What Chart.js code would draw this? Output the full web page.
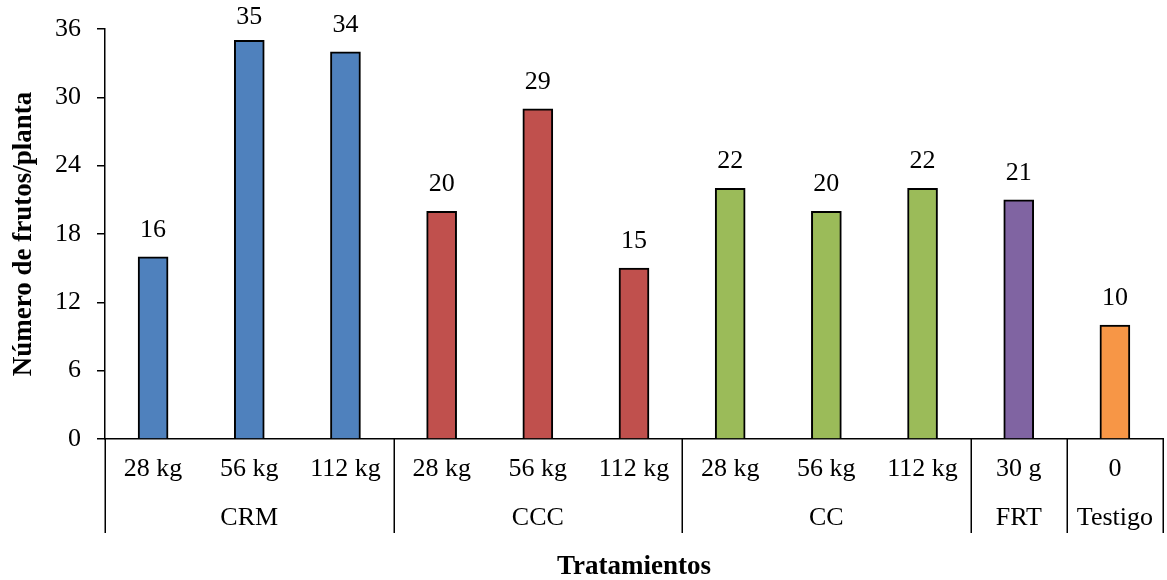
<!DOCTYPE html>
<html>
<head>
<meta charset="utf-8">
<script src="https://cdn.jsdelivr.net/npm/chart.js@4.4.1/dist/chart.umd.min.js"></script>
<style>
  html, body { margin: 0; padding: 0; background: #ffffff; }
  #wrap { width: 1167px; height: 580px; position: relative; }
</style>
</head>
<body>
<div id="wrap"><canvas id="chart"></canvas></div>
<script>
// Treatment doses (inner x labels)
const doses = ['28 kg', '56 kg', '112 kg', '28 kg', '56 kg', '112 kg', '28 kg', '56 kg', '112 kg', '30 g', '0'];
// Number of fruits per plant for each treatment
const frutos = [16, 35, 34, 20, 29, 15, 22, 20, 22, 21, 10];
// Outer treatment groups and how many doses each spans
const groupNames = ['CRM', 'CCC', 'CC', 'FRT', 'Testigo'];
const groupSizes = [3, 3, 3, 1, 1];
const groupColors = ['#4F81BD', '#C0504D', '#9BBB59', '#8064A2', '#F79646'];
const yTicks = [0, 6, 12, 18, 24, 30, 36];

const barColors = [];
groupSizes.forEach((n, g) => { for (let i = 0; i < n; i++) barColors.push(groupColors[g]); });

const SERIF = '"Liberation Serif", "Times New Roman", serif';
const LABEL_SIZE = 26;

// Value labels above bars, plus group labels and separators under the x axis
const extras = {
  id: 'extras',
  afterDatasetsDraw(chart) {
    const ctx = chart.ctx;
    const meta = chart.getDatasetMeta(0);
    ctx.save();
    ctx.fillStyle = '#000';
    ctx.font = LABEL_SIZE + 'px ' + SERIF;
    ctx.textAlign = 'center';
    ctx.textBaseline = 'middle';
    meta.data.forEach((bar, i) => {
      ctx.fillText(String(frutos[i]), bar.x, Math.max(bar.y - 27, 17));
    });
    ctx.restore();
  },
  afterDraw(chart) {
    const ctx = chart.ctx;
    const xs = chart.scales.x;
    const half = (xs.getPixelForValue(1) - xs.getPixelForValue(0)) / 2;
    const top = chart.chartArea.bottom;
    const lineBottom = top + 94;
    ctx.save();
    ctx.strokeStyle = '#000';
    ctx.lineWidth = 1.5;
    ctx.fillStyle = '#000';
    ctx.font = LABEL_SIZE + 'px ' + SERIF;
    ctx.textAlign = 'center';
    ctx.textBaseline = 'middle';
    let start = 0;
    const edges = [xs.getPixelForValue(0) - half];
    groupSizes.forEach((n, g) => {
      const end = start + n - 1;
      const cx = (xs.getPixelForValue(start) + xs.getPixelForValue(end)) / 2;
      ctx.fillText(groupNames[g], cx, top + 79);
      edges.push(xs.getPixelForValue(end) + half);
      start += n;
    });
    edges.forEach(x => {
      const px = Math.round(x) + 0.25;
      ctx.beginPath();
      ctx.moveTo(px, top);
      ctx.lineTo(px, lineBottom);
      ctx.stroke();
    });
    ctx.restore();
  }
};

new Chart(document.getElementById('chart'), {
  type: 'bar',
  data: {
    labels: doses,
    datasets: [{
      data: frutos,
      backgroundColor: barColors,
      borderColor: '#000',
      borderWidth: 2,
      barThickness: 30
    }]
  },
  options: {
    responsive: true,
    maintainAspectRatio: false,
    animation: false,
    devicePixelRatio: 1,
    layout: { padding: { top: 27, right: 4, left: 0, bottom: 0 } },
    plugins: {
      legend: { display: false },
      tooltip: { enabled: false }
    },
    scales: {
      x: {
        offset: true,
        grid: { display: false, drawTicks: false },
        border: { display: true, color: '#000', width: 1.5 },
        ticks: {
          color: '#000',
          font: { family: SERIF, size: LABEL_SIZE },
          padding: 15,
          maxRotation: 0,
          autoSkip: false
        },
        title: {
          display: true,
          text: 'Tratamientos',
          color: '#000',
          font: { family: SERIF, size: 27, weight: 'bold', lineHeight: 1 },
          padding: { top: 0, bottom: -1 }
        },
        afterFit(scale) { scale.height = 141; }
      },
      y: {
        min: 0,
        max: 36,
        afterBuildTicks(scale) { scale.ticks = yTicks.map(v => ({ value: v })); },
        grid: {
          display: true,
          drawOnChartArea: false,
          drawTicks: true,
          tickLength: 8,
          color: '#000',
          lineWidth: 1.5
        },
        border: { display: true, color: '#000', width: 1.5 },
        ticks: {
          color: '#000',
          font: { family: SERIF, size: LABEL_SIZE, lineHeight: 1 },
          padding: 16
        },
        title: {
          display: true,
          text: 'Número de frutos/planta',
          color: '#000',
          font: { family: SERIF, size: 27, weight: 'bold', lineHeight: 1 },
          padding: { top: 11, bottom: 0 }
        },
        afterFit(scale) { scale.width = 105; }
      }
    }
  },
  plugins: [extras]
});
</script>
</body>
</html>
